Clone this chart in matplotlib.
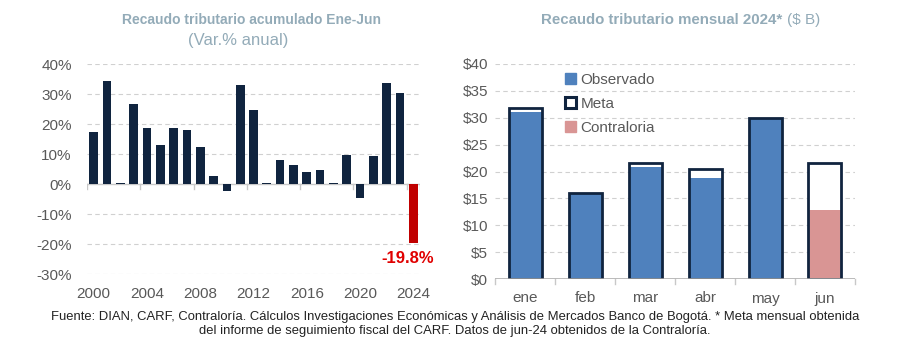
import numpy as np
import matplotlib.pyplot as plt
from matplotlib.patches import Patch

# datos panel izquierdo: variacion anual del recaudo acumulado ene-jun (%)
anios = list(range(2000, 2025))
var_anual = [17.4, 34.4, 0.2, 26.6, 18.7, 12.9, 18.8, 18.1, 12.3, 2.7,
             -2.3, 32.9, 24.7, 0.2, 8.1, 6.4, 4.0, 4.8, 0.2, 9.8,
             -4.8, 9.4, 33.8, 30.3, -19.8]

# datos panel derecho: recaudo mensual 2024 ($ billones)
meses = ["ene", "feb", "mar", "abr", "may", "jun"]
observado = [31.0, 16.0, 20.8, 18.7, 30.0, 0]
meta = [31.8, 16.0, 21.6, 20.4, 30.0, 21.6]
contraloria = [0, 0, 0, 0, 0, 12.9]

navy = "#10243f"
rojo = "#c00000"
azul = "#4f81bd"
rosa = "#d99594"
titulo_c = "#93abb8"
gris = "#595959"

plt.rcParams["font.family"] = ["Liberation Sans", "DejaVu Sans"]

fig = plt.figure(figsize=(9.17, 3.62), dpi=100)
W, H = 917, 362

# ---------------- panel izquierdo ----------------
ax1 = fig.add_axes([87 / W, (H - 274) / H, 333 / W, 210 / H])
colores = [rojo if a == 2024 else navy for a in anios]
ax1.bar(anios, var_anual, width=0.65, color=colores, zorder=3)
ax1.set_xlim(anios[0] - 0.5, anios[-1] + 0.5)
ax1.set_ylim(-30, 40)
ax1.set_yticks(range(-30, 41, 10))
ax1.set_yticklabels([f"{v}%" for v in range(-30, 41, 10)])
ax1.set_xticks(anios[::4])
for v in range(-30, 41, 10):
    if v != 0:
        ax1.axhline(v, color="#d0d0d0", lw=0.8, ls=(0, (4, 3)), zorder=1)
ax1.axhline(0, color="#c8c8c8", lw=1.0, zorder=2)
# marcas del eje entre categorias
for a in anios[::4]:
    ax1.plot([a - 0.5, a - 0.5], [0, -1.8], color="#c8c8c8", lw=1.0, zorder=2)
ax1.plot([anios[-1] + 0.5] * 2, [0, -1.8], color="#c8c8c8", lw=1.0, zorder=2)
for s in ax1.spines.values():
    s.set_visible(False)
ax1.tick_params(length=0, labelsize=11, colors=gris)
ax1.tick_params(axis="x", pad=9)
ax1.tick_params(axis="y", pad=11)
ax1.text(anios[-1] - 0.45, var_anual[-1] - 2.4, f"{var_anual[-1]:.1f}%",
         color="#e00000", fontsize=12, fontweight="bold", ha="center", va="top")

fig.text(252 / W, 1 - 20 / H, "Recaudo tributario acumulado Ene-Jun",
         color=titulo_c, fontsize=10, fontweight="bold", ha="center", va="center")
fig.text(238 / W, 1 - 40 / H, "(Var.% anual)",
         color=titulo_c, fontsize=12, ha="center", va="center")

# ---------------- panel derecho ----------------
ax2 = fig.add_axes([495 / W, (H - 279) / H, 360 / W, 215 / H])
x = np.arange(len(meses))
ancho = 0.55
ax2.bar(x, meta, width=ancho, color="white", zorder=2)
ax2.bar(x, observado, width=ancho, color=azul, zorder=3)
ax2.bar(x, contraloria, width=ancho, color=rosa, zorder=3)
ax2.bar(x, meta, width=ancho, facecolor="none", edgecolor=navy,
        linewidth=2.0, zorder=4)
ax2.set_xlim(-0.5, len(meses) - 0.5)
ax2.set_ylim(0, 40)
ax2.set_yticks(range(0, 41, 5))
ax2.set_yticklabels([f"${v}" for v in range(0, 41, 5)])
ax2.set_xticks(x)
ax2.set_xticklabels(meses)
for v in range(5, 41, 5):
    ax2.axhline(v, color="#d0d0d0", lw=0.8, ls=(0, (4, 3)), zorder=1)
ax2.axhline(0, color="#a6a6a6", lw=1.8, zorder=5)
for b in np.arange(len(meses) + 1) - 0.5:
    ax2.plot([b, b], [0, -0.9], color="#c8c8c8", lw=1.0, clip_on=False, zorder=1)
for s in ax2.spines.values():
    s.set_visible(False)
ax2.tick_params(length=0, labelsize=11, colors=gris)
ax2.tick_params(axis="x", pad=9)
ax2.tick_params(axis="y", pad=5)

leg_handles = [Patch(facecolor=azul, edgecolor=azul),
               Patch(facecolor="white", edgecolor=navy, linewidth=2.2),
               Patch(facecolor=rosa, edgecolor=rosa)]
ax2.legend(leg_handles, ["Observado", "Meta", "Contraloria"],
           loc="upper left", bbox_to_anchor=(0.17, 1.0), frameon=False,
           fontsize=11, handlelength=0.7, handleheight=0.7, handletextpad=0.3,
           labelspacing=0.65, labelcolor=gris, borderaxespad=0.2)

t_der = fig.text(541 / W, 1 - 20 / H, "Recaudo tributario mensual 2024*",
                 color=titulo_c, fontsize=10.8, fontweight="bold",
                 ha="left", va="center")
fig.canvas.draw()
bb = t_der.get_window_extent()
fig.text((bb.x1 + 5) / W, 1 - 20 / H, "($ B)",
         color=titulo_c, fontsize=11, ha="left", va="center")

# ---------------- nota al pie ----------------
nota = ("Fuente: DIAN, CARF, Contraloría. Cálculos Investigaciones Económicas y "
        "Análisis de Mercados Banco de Bogotá. * Meta mensual obtenida\n"
        "del informe de seguimiento fiscal del CARF. Datos de jun-24 obtenidos "
        "de la Contraloría.")
fig.text(455 / W, 1 - 324 / H, nota, fontsize=9.4, color="#222222",
         ha="center", va="center", linespacing=1.3)

plt.savefig("out.png", dpi=100)
